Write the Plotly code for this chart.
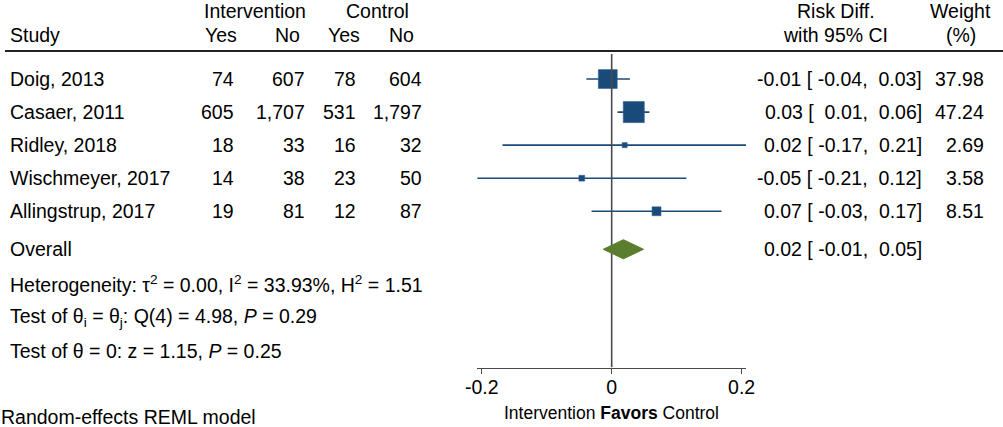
import plotly.graph_objects as go

# ---------------- data ----------------
studies = ["Doig, 2013", "Casaer, 2011", "Ridley, 2018", "Wischmeyer, 2017", "Allingstrup, 2017"]
int_yes = ["74", "605", "18", "14", "19"]
int_no = ["607", "1,707", "33", "38", "81"]
ctl_yes = ["78", "531", "16", "23", "12"]
ctl_no = ["604", "1,797", "32", "50", "87"]
effect = [-0.006, 0.034, 0.020, -0.046, 0.069]
ci_low = [-0.039, 0.009, -0.168, -0.207, -0.031]
ci_high = [0.028, 0.058, 0.207, 0.115, 0.169]
weights = [37.98, 47.24, 2.69, 3.58, 8.51]
rd_labels = ["-0.01 [ -0.04,  0.03]", "0.03 [  0.01,  0.06]", "0.02 [ -0.17,  0.21]",
             "-0.05 [ -0.21,  0.12]", "0.07 [ -0.03,  0.17]"]
weight_labels = ["37.98", "47.24", "2.69", "3.58", "8.51"]
overall_effect = 0.018
overall_low = -0.013
overall_high = 0.049
overall_label = "0.02 [ -0.01,  0.05]"
stats_lines = [
    "Heterogeneity: τ<sup>2</sup> = 0.00, I<sup>2</sup> = 33.93%, H<sup>2</sup> = 1.51",
    "Test of θ<sub>i</sub> = θ<sub>j</sub>: Q(4) = 4.98, <i>P</i> = 0.29",
    "Test of θ = 0: z = 1.15, <i>P</i> = 0.25",
]
tick_vals = [-0.2, 0, 0.2]
tick_text = ["-0.2", "0", "0.2"]

# ---------------- layout helpers ----------------
W, H = 1003, 427
FONT = "Liberation Sans, Arial, sans-serif"
FS = 19.5
BLUE = "#1a4a7a"
GREEN = "#5a7d2e"
GRAY = "#4a4a4a"

def px(x):
    return x / W

def py(y):
    return 1 - y / H

rows = [1, 2, 3, 4, 5]
overall_row = 6.15
stat_rows = [7.2, 8.22, 9.22]
y_top, y_bot = 0.2424, 9.727  # rows at plot top / bottom

fig = go.Figure()

# CI lines + squares
fig.add_trace(go.Scatter(
    x=effect, y=rows, mode="markers",
    marker=dict(symbol="square", color=BLUE, opacity=1,
                size=[3.06 * w ** 0.5 for w in weights],
                line=dict(width=0.6, color="#2f5f8f")),
    error_x=dict(type="data", symmetric=False,
                 array=[h - e for h, e in zip(ci_high, effect)],
                 arrayminus=[e - l for e, l in zip(effect, ci_low)],
                 color=BLUE, thickness=1.6, width=0),
    hoverinfo="skip", showlegend=False, cliponaxis=False,
))

# zero line
fig.add_trace(go.Scatter(
    x=[0, 0], y=[y_top, y_bot], mode="lines",
    line=dict(color=GRAY, width=1.6), hoverinfo="skip", showlegend=False,
))

# overall diamond
dh = 0.29
fig.add_trace(go.Scatter(
    x=[overall_low, overall_effect, overall_high, overall_effect, overall_low],
    y=[overall_row, overall_row - dh, overall_row, overall_row + dh, overall_row],
    mode="lines", fill="toself", fillcolor=GREEN,
    line=dict(color=GREEN, width=1), hoverinfo="skip", showlegend=False,
))

ann = []

def text(x, y, t, xanchor="left", yref="paper", size=FS):
    ann.append(dict(x=px(x), xref="paper", y=y, yref=yref, text=t,
                    xanchor=xanchor, yanchor="middle", showarrow=False,
                    borderpad=0,
                    font=dict(family=FONT, size=size, color="black")))

# headers
text(255, py(10.5), "Intervention", "center")
text(377, py(10.5), "Control", "center")
text(9, py(35), "Study")
text(221, py(35), "Yes", "center")
text(287, py(35), "No", "center")
text(343.5, py(35), "Yes", "center")
text(401.5, py(35), "No", "center")
text(835.5, py(10.5), "Risk Diff.", "center")
text(835.5, py(35), "with 95% CI", "center")
text(960.5, py(10.5), "Weight", "center")
text(960.5, py(35), "(%)", "center")

# study rows
for i, r in enumerate(rows):
    text(9, r, studies[i], "left", "y")
    text(235, r, int_yes[i], "right", "y")
    text(306, r, int_no[i], "right", "y")
    text(357, r, ctl_yes[i], "right", "y")
    text(423, r, ctl_no[i], "right", "y")
    text(923, r, rd_labels[i].replace("  ", "&nbsp; "), "right", "y")
    text(985, r, weight_labels[i], "right", "y")

text(9, overall_row, "Overall", "left", "y")
text(923, overall_row, overall_label.replace("  ", "&nbsp; "), "right", "y")
for r, s in zip(stat_rows, stats_lines):
    text(9, r, s, "left", "y")

text(0, py(417), "Random-effects REML model", "left")
text(611.7, py(413), "Intervention <b>Favors</b> Control", "center", size=17.5)

fig.update_layout(
    width=W, height=H,
    margin=dict(l=0, r=0, t=0, b=0),
    paper_bgcolor="white", plot_bgcolor="white",
    annotations=ann,
    shapes=[dict(type="line", xref="paper", yref="paper",
                 x0=px(5), x1=1, y0=py(51), y1=py(51),
                 line=dict(color="#222222", width=2))],
    xaxis=dict(domain=[px(477.3), px(746)], range=[-0.2068, 0.2067],
               showgrid=False, zeroline=False, showline=True,
               linecolor=GRAY, linewidth=1.4,
               ticks="outside", ticklen=5, tickcolor=GRAY, tickwidth=1.4,
               ticklabelstandoff=-3,
               tickvals=tick_vals, ticktext=tick_text,
               tickfont=dict(family=FONT, size=FS, color="black"),
               automargin=False, fixedrange=True),
    yaxis=dict(domain=[py(367.5), py(54)], range=[y_bot, y_top],
               visible=False, automargin=False, fixedrange=True),
    showlegend=False,
)

fig.write_html("out.html", config={"displayModeBar": False},
               post_script="document.body.style.margin='0';document.body.style.overflow='hidden';")
